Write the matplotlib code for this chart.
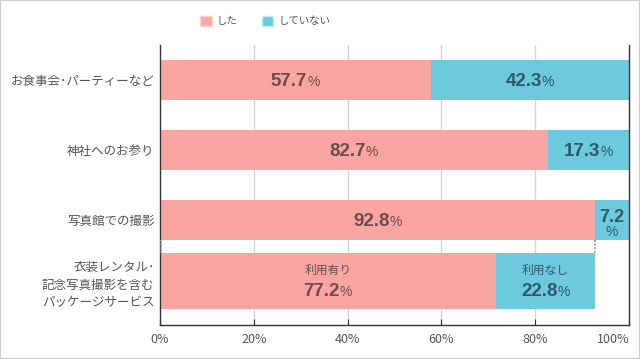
import matplotlib.pyplot as plt
from matplotlib.patches import Patch, Rectangle

plt.rcParams['font.family'] = ['Noto Sans CJK JP', 'DejaVu Sans']

categories = ['お食事会･パーティーなど', '神社へのお参り', '写真館での撮影',
              '衣装レンタル･\n記念写真撮影を含む\nパッケージサービス']
did = [57.7, 82.7, 92.8]
did_not = [42.3, 17.3, 7.2]
# breakdown of the 92.8% who used a studio
pkg_labels = ['利用有り', '利用なし']
pkg_share = [77.2, 22.8]
legend_labels = ['した', 'していない']
xticks = [0, 20, 40, 60, 80, 100]

PINK = '#F9A5A2'
BLUE = '#6DC9DE'
TXT = '#555555'
PINK_TXT = '#6a4e4e'
BLUE_TXT = '#2e5a68'
NUMFONT = ['Liberation Sans', 'DejaVu Sans']

fig = plt.figure(figsize=(6.4, 3.59), dpi=100)
fig.patches.append(Rectangle((0, 0), 1, 1, transform=fig.transFigure,
                             fill=False, edgecolor='#cccccc', lw=1.5))
ax = fig.add_axes([160/640, 34/359, 469/640, 280/359])

centers = [35, 105, 175, 236]
heights = [40, 40, 40, 56]

ax.barh(centers[:3], did, height=heights[:3], color=PINK, zorder=2)
ax.barh(centers[:3], did_not, left=did, height=heights[:3], color=BLUE, zorder=2)
base = did[2]
p1 = base * pkg_share[0] / 100
p2 = base - p1
ax.barh(centers[3], p1, height=heights[3], color=PINK, zorder=2)
ax.barh(centers[3], p2, left=p1, height=heights[3], color=BLUE, zorder=2)

# dotted connector lines
y0 = centers[2] + heights[2] / 2
y1 = centers[3] - heights[3] / 2
for xx in (0.3, base):
    ax.plot([xx, xx], [y0, y1], ls=(0, (1, 1)), color='#999999', lw=1.3, zorder=3)

ax.set_xlim(0, 100)
ax.set_ylim(280, 0)
ax.set_xticks(xticks)
ax.set_xticklabels([f'{t}%' for t in xticks], fontsize=9, color=TXT)
ax.get_xticklabels()[-1].set_horizontalalignment('right')
ax.get_xticklabels()[-1].set_x(100.4)
ax.tick_params(axis='x', direction='in', length=4, color='#333333', pad=6)
ax.set_yticks(centers)
ax.set_yticklabels(categories, fontsize=9, color=TXT, linespacing=1.5)
ax.tick_params(axis='y', length=0, pad=4)
for t in xticks[1:-1]:
    ax.axvline(t, color='#d5d5d5', lw=1, zorder=1)
for s in ['left', 'right', 'bottom']:
    ax.spines[s].set_color('#333333')
    ax.spines[s].set_linewidth(1)
ax.spines['top'].set_visible(False)

fig.canvas.draw()
renderer = fig.canvas.get_renderer()


def pct_label(x, y, num, color):
    t1 = ax.text(x, y, num, ha='left', va='baseline', fontsize=13.5,
                 fontweight='bold', color=color, family=NUMFONT, zorder=4)
    t2 = ax.text(x, y, '%', ha='left', va='baseline', fontsize=10,
                 color=color, family=NUMFONT, zorder=4)
    w1 = t1.get_window_extent(renderer).width
    w2 = t2.get_window_extent(renderer).width
    total = w1 + w2
    inv = ax.transData.inverted()
    px, py = ax.transData.transform((x, y))
    t1.set_position(inv.transform((px - total / 2, py)))
    t2.set_position(inv.transform((px - total / 2 + w1, py)))


for i in range(3):
    c = centers[i] + 6
    pct_label(did[i] / 2, c, f'{did[i]}', PINK_TXT)
    if did_not[i] > 10:
        pct_label(did[i] + did_not[i] / 2, c, f'{did_not[i]}', BLUE_TXT)
    else:
        xm = did[i] + did_not[i] / 2
        ax.text(xm, centers[i] - 3, f'{did_not[i]}', ha='center', va='center',
                fontsize=13, fontweight='bold', color=BLUE_TXT, family=NUMFONT, zorder=4)
        ax.text(xm, centers[i] + 12, '%', ha='center', va='center',
                fontsize=10, color=BLUE_TXT, family=NUMFONT, zorder=4)

c = centers[3]
ax.text(p1 / 2, c - 11, pkg_labels[0], ha='center', va='center', fontsize=8.5, color=PINK_TXT, zorder=4)
pct_label(p1 / 2, c + 15, f'{pkg_share[0]}', PINK_TXT)
ax.text(p1 + p2 / 2, c - 11, pkg_labels[1], ha='center', va='center', fontsize=8.5, color=BLUE_TXT, zorder=4)
pct_label(p1 + p2 / 2, c + 15, f'{pkg_share[1]}', BLUE_TXT)

handles = [Patch(facecolor=PINK, edgecolor='#fcd3d1'), Patch(facecolor=BLUE, edgecolor='#c5ecf4')]
fig.legend(handles, legend_labels, loc='center left', bbox_to_anchor=(191/640, 1 - 21/359), ncol=2,
           frameon=False, fontsize=7.5, labelcolor=TXT, handlelength=1.1, handleheight=1.1,
           columnspacing=2.3, handletextpad=0.5)

fig.savefig('out.png', dpi=100)
